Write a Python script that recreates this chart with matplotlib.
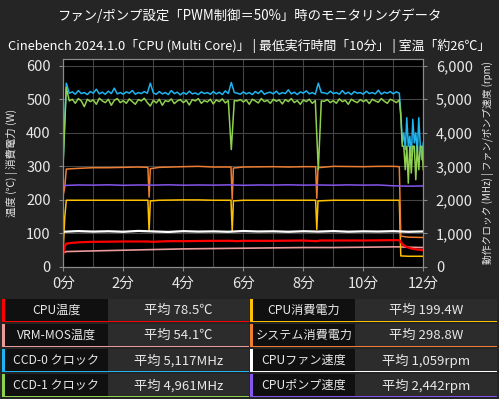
import numpy as np
import matplotlib
matplotlib.use('Agg')
import matplotlib.pyplot as plt
from matplotlib.patches import Rectangle

plt.rcParams['font.family'] = ['Noto Sans CJK JP', 'DejaVu Sans']

# --- données ---
clk_t = list(np.round(np.arange(0, 11.21, 0.1), 2)) + [11.25, 11.3, 11.35, 11.4, 11.45, 11.5, 11.55, 11.6,
                                                      11.65, 11.7, 11.75, 11.8, 11.85, 11.9, 11.95, 12.0]
ccd0 = [3300, 5480, 5180, 5220, 5150, 5260, 5170, 5200, 5140, 5230,
        5180, 5300, 5160, 5210, 5150, 5240, 5170, 5330, 5160, 5200,
        5150, 5220, 5180, 5260, 5150, 5200, 5170, 5230, 5180, 5480,
        5190, 5150, 5230, 5160, 5200, 5140, 5260, 5170, 5210, 5130,
        5200, 5150, 5240, 5160, 5190, 5140, 5220, 5170, 5200, 5150,
        5230, 5160, 5210, 5140, 5250, 5170, 5500, 5200, 5180, 5150,
        5220, 5160, 5200, 5140, 5230, 5170, 5260, 5150, 5190, 5210,
        5160, 5240, 5150, 5200, 5170, 5280, 5160, 5210, 5140, 5220,
        5180, 5250, 5160, 5200, 5150, 5480, 5200, 5190, 5160, 5240,
        5170, 5200, 5150, 5260, 5160, 5210, 5140, 5230, 5180, 5200,
        5150, 5240, 5170, 5200, 5160, 5270, 5150, 5210, 5180, 5230,
        5160, 5220, 5180,
        4600, 3700, 4000, 3500, 4450, 3600, 3900, 3300, 4400, 3700, 4000, 3400, 4450, 3600, 3200, 3700]
ccd1 = [3200, 5350, 4950, 5000, 4880, 5020, 4950, 4780, 5000, 4930,
        4980, 4850, 5030, 4950, 4900, 5000, 4820, 4970, 5020, 4900,
        4960, 4880, 5010, 4930, 4850, 4990, 4950, 5030, 4900, 4800,
        4970, 4890, 5000, 4820, 4960, 4930, 5010, 4870, 4950, 4990,
        4900, 4970, 4830, 4990, 4950, 5020, 4880, 4960, 4920, 5000,
        4860, 4980, 4930, 5010, 4890, 4960, 3500, 4960, 4950, 4990,
        4920, 4980, 4850, 5000, 4950, 4890, 5020, 4930, 4970, 4880,
        5000, 4940, 4980, 4860, 4990, 4930, 5020, 4900, 4960, 4850,
        4980, 4930, 5000, 4880, 4960, 2900, 4950, 4940, 4990, 4900,
        4960, 4880, 5010, 4930, 4970, 4850, 5000, 4940, 4900, 4990,
        4930, 4980, 4870, 5000, 4950, 4910, 5020, 4940, 4880, 5000,
        4960, 4900, 4980,
        4500, 3600, 3600, 2900, 3600, 2500, 3600, 2800, 3600, 3600, 2600, 3600, 2900, 3600, 3600, 2900]

pw_t = [0, 0.05, 0.1, 0.5, 1, 1.5, 2, 2.5, 2.82, 2.86, 2.9, 3.2, 4, 4.5, 5, 5.59, 5.63, 5.67,
        6, 7, 7.5, 8, 8.41, 8.45, 8.49, 9, 10, 10.5, 11, 11.2, 11.25, 11.5, 12]
sys_w = [215, 240, 292, 294, 296, 296, 297, 298, 297, 208, 293, 297, 299, 300, 298, 298, 202, 295,
         298, 299, 298, 299, 299, 205, 296, 300, 299, 300, 300, 299, 92, 89, 88]
cpu_w = [60, 150, 199, 199, 199, 199, 199, 199, 199, 107, 197, 199, 200, 200, 199, 199, 107, 197,
         199, 199, 199, 199, 199, 112, 197, 199, 199, 199, 199, 199, 33, 32, 32]

cpu_t = [0, 0.05, 0.1, 0.3, 0.6, 1, 2, 2.86, 2.95, 3.5, 4, 5, 5.63, 5.75, 6, 7, 8, 8.45, 8.55,
         9, 10, 11, 11.2, 11.25, 11.3, 11.4, 11.5, 11.6, 11.8, 12]
cpu_c = [40, 62, 70, 72, 74, 75, 76, 76, 75, 77, 77, 78, 78, 77, 78, 78, 79, 77, 79,
         79, 79, 80, 80, 75, 68, 62, 58, 55, 52, 50]

vrm_t = [0, 0.1, 1, 2, 3, 4, 5, 6, 7, 8, 9, 10, 11, 11.2, 11.5, 12]
vrm_c = [43, 46, 48, 50, 52, 54, 55, 56, 57, 58, 58, 59, 60, 60, 59, 58]

rpm_t = list(np.arange(0, 12.01, 0.5))
fan = [1050, 1070, 1055, 1065, 1050, 1075, 1060, 1045, 1068, 1055, 1062, 1050, 1072,
       1058, 1064, 1050, 1066, 1055, 1070, 1052, 1063, 1057, 1068, 1050, 1060]
pump = [2430, 2445, 2440, 2450, 2435, 2445, 2440, 2450, 2438, 2445, 2440, 2448, 2435,
        2445, 2442, 2450, 2440, 2445, 2438, 2448, 2440, 2445, 2420, 2410, 2415]

labels = ['CPU温度', 'VRM-MOS温度', 'CCD-0 クロック', 'CCD-1 クロック',
          'CPU消費電力', 'システム消費電力', 'CPUファン速度', 'CPUポンプ速度']
moyennes = ['平均 78.5℃', '平均 54.1℃', '平均 5,117MHz', '平均 4,961MHz',
            '平均 199.4W', '平均 298.8W', '平均 1,059rpm', '平均 2,442rpm']
couleurs = ['#ff0000', '#e99a9a', '#1eb4f0', '#8fd14f',
            '#ffc000', '#ed7d31', '#ffffff', '#8656ee']

fond = '#252525'
txt = '#e8e8e8'

fig = plt.figure(figsize=(4.99, 3.99), dpi=100, facecolor=fond)
ax = fig.add_axes([63.3/499, 1-267/399, 360/499, 208/399])
ax.set_facecolor('black')
ax2 = ax.twinx()

ax.plot(vrm_t, vrm_c, color=couleurs[1], lw=1.2, zorder=3)
ax.plot(cpu_t, cpu_c, color=couleurs[0], lw=1.6, zorder=4)
ax.plot(pw_t, cpu_w, color=couleurs[4], lw=1.1, zorder=3)
ax.plot(pw_t, sys_w, color=couleurs[5], lw=1.1, zorder=3)

ax2.plot(rpm_t, pump, color=couleurs[7], lw=1.1)
ax2.plot(rpm_t, fan, color=couleurs[6], lw=1.6)
ax2.plot(clk_t, ccd0, color=couleurs[2], lw=1.1)
ax2.plot(clk_t, ccd1, color=couleurs[3], lw=1.1)

ax.set_xlim(0, 12)
ax.set_ylim(0, 620)
ax2.set_ylim(0, 6200)
ax.set_xticks(range(0, 13, 2))
ax.set_xticklabels([f'{m}分' for m in range(0, 13, 2)])
ax.set_xticks(range(0, 13), minor=True)
ax.set_yticks(range(0, 601, 100))
ax2.set_yticks(range(0, 6001, 1000))
ax2.set_yticklabels([f'{v:,}' for v in range(0, 6001, 1000)])
ax.grid(True, which='both', color='#444444', lw=0.8)
ax.tick_params(which='minor', length=0)
for a in (ax, ax2):
    a.tick_params(colors=txt, labelsize=10.5, length=3, width=0.8)
    a.tick_params(axis='both', color='#888888')
    for s in a.spines.values():
        s.set_color('#8a8a8a')
        s.set_linewidth(0.8)
ax.tick_params(axis='x', pad=4)
ax.tick_params(axis='y', pad=6)
ax2.tick_params(axis='y', pad=6)
ax.set_axisbelow(True)

fig.text(12/499, 1-163/399, '温度 (℃) | 消費電力 (W)', rotation=90, ha='center', va='center',
         color=txt, fontsize=7.5)
fig.text(488/499, 1-163/399, '動作クロック (MHz) | ファン/ポンプ速度 (rpm)', rotation=90,
         ha='center', va='center', color=txt, fontsize=7)

fig.text(0.5, 1-16/399, 'ファン/ポンプ設定「PWM制御＝50%」時のモニタリングデータ', ha='center',
         va='center', color='white', fontsize=9.6)
fig.text(0.5, 1-46/399, 'Cinebench 2024.1.0「CPU (Multi Core)」 | 最低実行時間「10分」 | 室温「約26℃」',
         ha='center', va='center', color='white', fontsize=9.3)

# tableau de légende
lg = fig.add_axes([0, 0, 1, 1])
lg.set_xlim(0, 499)
lg.set_ylim(399, 0)
lg.set_axis_off()
cols = [(2, 108, 249), (250, 355, 497)]
for i in range(8):
    c = i // 4
    r = i % 4
    x0, xm, x1 = cols[c]
    y0 = 299 + r*25
    h = 23
    lg.add_patch(Rectangle((x0, y0), xm-x0, h, facecolor='#101010', edgecolor='none'))
    lg.add_patch(Rectangle((xm, y0), x1-xm, h, facecolor='#2c2c2c', edgecolor='none'))
    lg.add_patch(Rectangle((x0, y0+h-1.5), x1-x0, 1.5, facecolor=couleurs[i], edgecolor='none'))
    lg.add_patch(Rectangle((x0, y0), 3, h, facecolor=couleurs[i], edgecolor='none'))
    lg.text((x0+xm)/2+1.5, y0+h/2, labels[i], ha='center', va='center', color=txt, fontsize=8.7)
    lg.text((xm+x1)/2, y0+h/2, moyennes[i], ha='center', va='center', color=txt, fontsize=9.5)

fig.savefig('out.png', dpi=100, facecolor=fond)
